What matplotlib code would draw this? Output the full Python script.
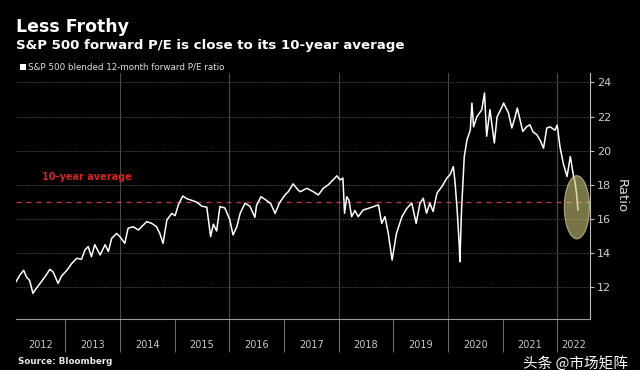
import matplotlib
matplotlib.use("Agg")
import matplotlib.pyplot as plt
from matplotlib.patches import Ellipse, Rectangle

# S&P 500 blended 12-month forward P/E (decimal year, ratio)
dates = [
    2012.10, 2012.17, 2012.24, 2012.29, 2012.35, 2012.41, 2012.45, 2012.54, 2012.63, 2012.72,
    2012.78, 2012.87, 2012.93, 2013.03, 2013.12, 2013.21, 2013.30, 2013.36, 2013.42, 2013.48,
    2013.54, 2013.64, 2013.73, 2013.79, 2013.85, 2013.94, 2014.00, 2014.09, 2014.15, 2014.24,
    2014.34, 2014.43, 2014.49, 2014.58, 2014.67, 2014.73, 2014.79, 2014.86, 2014.95, 2015.01,
    2015.07, 2015.15, 2015.22, 2015.31, 2015.40, 2015.50, 2015.59, 2015.66, 2015.71, 2015.77,
    2015.83, 2015.92, 2016.01, 2016.07, 2016.14, 2016.20, 2016.29, 2016.38, 2016.47, 2016.50,
    2016.58, 2016.67, 2016.76, 2016.84, 2016.92, 2017.02, 2017.08, 2017.17, 2017.26, 2017.30,
    2017.42, 2017.54, 2017.63, 2017.72, 2017.81, 2017.90, 2017.97, 2018.03, 2018.08, 2018.11,
    2018.15, 2018.19, 2018.24, 2018.30, 2018.36, 2018.45, 2018.55, 2018.64, 2018.73, 2018.79,
    2018.85, 2018.91, 2018.98, 2019.06, 2019.16, 2019.25, 2019.34, 2019.42, 2019.49, 2019.55,
    2019.61, 2019.67, 2019.73, 2019.80, 2019.89, 2019.98, 2020.04, 2020.10, 2020.13, 2020.17,
    2020.21, 2020.22, 2020.25, 2020.30, 2020.35, 2020.41, 2020.44, 2020.47, 2020.53, 2020.62,
    2020.67, 2020.71, 2020.77, 2020.85, 2020.90, 2020.99, 2021.02, 2021.11, 2021.17, 2021.23,
    2021.27, 2021.37, 2021.44, 2021.50, 2021.56, 2021.63, 2021.69, 2021.75, 2021.81, 2021.87,
    2021.96, 2022.00, 2022.05, 2022.11, 2022.18, 2022.24, 2022.30, 2022.33, 2022.36, 2022.38,
]
pe = [
    12.33, 12.72, 13.00, 12.62, 12.40, 11.65, 11.85, 12.23, 12.62, 13.06,
    12.90, 12.23, 12.65, 13.00, 13.40, 13.70, 13.65, 14.19, 14.39, 13.80,
    14.50, 13.90, 14.50, 14.10, 14.87, 15.16, 14.97, 14.58, 15.46, 15.55,
    15.36, 15.65, 15.85, 15.75, 15.55, 15.16, 14.58, 15.95, 16.33, 16.20,
    16.83, 17.35, 17.20, 17.10, 17.00, 16.75, 16.70, 14.97, 15.70, 15.30,
    16.73, 16.65, 15.97, 15.07, 15.55, 16.33, 16.93, 16.75, 16.10, 16.80,
    17.31, 17.12, 16.90, 16.33, 16.95, 17.41, 17.60, 18.06, 17.70, 17.60,
    17.80, 17.60, 17.41, 17.80, 18.00, 18.29, 18.53, 18.29, 18.40, 16.34,
    17.31, 17.10, 16.14, 16.50, 16.14, 16.53, 16.63, 16.73, 16.83, 15.75,
    16.14, 15.16, 13.60, 15.16, 16.14, 16.63, 16.93, 15.75, 16.93, 17.22,
    16.34, 16.93, 16.44, 17.51, 17.90, 18.39, 18.60, 19.07, 18.20, 16.53,
    14.38, 13.50, 16.53, 19.66, 20.64, 21.20, 22.79, 21.40, 21.98, 22.40,
    23.38, 20.85, 22.40, 20.45, 21.98, 22.56, 22.79, 22.20, 21.33, 21.98,
    22.50, 21.13, 21.40, 21.52, 21.10, 20.93, 20.60, 20.15, 21.33, 21.40,
    21.20, 21.50, 20.25, 19.27, 18.49, 19.66, 18.49, 18.10, 17.31, 16.53,
]

avg_10y = 17.0
year_edges = [2013, 2014, 2015, 2016, 2017, 2018, 2019, 2020, 2021, 2022]
year_labels = ["2012", "2013", "2014", "2015", "2016", "2017", "2018", "2019", "2020", "2021", "2022"]
y_ticks = [12, 14, 16, 18, 20, 22, 24]

x_lo, x_hi = 2012.10, 2022.60
y_lo, y_hi = 10.15, 24.55

fig = plt.figure(figsize=(6.4, 3.7), dpi=100, facecolor="black")
ax = fig.add_axes([16 / 640, 1 - 319 / 370, 574 / 640, 246 / 370], facecolor="black")

# grid
for y in y_ticks:
    ax.axhline(y, color="#4a4a4a", lw=0.7, ls=(0, (1, 1)), zorder=1)
for x in [2014, 2016, 2018, 2020, 2022]:
    ax.axvline(x, color="#4a4a4a", lw=0.8, zorder=1)

# 10-year average
ax.axhline(avg_10y, color="#c0404f", lw=0.9, ls=(0, (4, 4)), zorder=2)
ax.text(2012.57, 18.45, "10-year average", color="#d42424", fontsize=7,
        fontweight="bold", va="center", ha="left")

ax.plot(dates, pe, color="white", lw=1.1, zorder=3)

ax.add_patch(Ellipse((2022.36, 16.69), width=0.46, height=3.7,
                     facecolor="#c8c478", alpha=0.6, edgecolor="#ecea b0".replace(" ", ""),
                     lw=0.8, zorder=4))

ax.set_xlim(x_lo, x_hi)
ax.set_ylim(y_lo, y_hi)

# spines
for s in ["top", "left"]:
    ax.spines[s].set_visible(False)
ax.spines["bottom"].set_color("#9a9a9a")
ax.spines["right"].set_color("#bdbdbd")

# y axis on the right
ax.yaxis.tick_right()
ax.yaxis.set_label_position("right")
ax.set_yticks(y_ticks)
ax.set_yticklabels([str(t) for t in y_ticks])
ax.tick_params(axis="y", colors="#bdbdbd", labelcolor="#cfcfcf", labelsize=8,
               length=3, width=0.8, pad=2)
ax.set_ylabel("Ratio", color="#dcdcdc", fontsize=9.5, rotation=270, labelpad=12)

# x axis: separators at year edges, labels centred in each visible year
ax.set_xticks(year_edges)
ax.set_xticklabels([])
ax.tick_params(axis="x", which="major", colors="#6a6a6a", length=24, width=0.8)
centers = []
starts = [x_lo] + year_edges
ends = year_edges + [x_hi]
for a, b in zip(starts, ends):
    centers.append((a + b) / 2)
ax.set_xticks(centers, minor=True)
ax.set_xticklabels(year_labels, minor=True)
ax.tick_params(axis="x", which="minor", length=0, pad=15, labelsize=7,
               labelcolor="#c8c8c8")

# titles and notes
fig.text(16 / 640, 1 - 27 / 370, "Less Frothy", color="white", fontsize=12.5,
         fontweight="bold", va="center", ha="left")
fig.text(16 / 640, 1 - 45 / 370, "S&P 500 forward P/E is close to its 10-year average",
         color="white", fontsize=9.6, fontweight="bold", va="center", ha="left")
fig.patches.append(Rectangle((20 / 640, 1 - 70 / 370), 6 / 640, 6 / 370,
                             transform=fig.transFigure, facecolor="white",
                             edgecolor="none"))
fig.text(28 / 640, 1 - 67 / 370, "S&P 500 blended 12-month forward P/E ratio",
         color="#e0e0e0", fontsize=6.3, va="center", ha="left")
fig.text(18 / 640, 1 - 362 / 370, "Source: Bloomberg", color="#e8e8e8", fontsize=6.3,
         fontweight="bold", va="center", ha="left")
fig.text(628 / 640, 1 - 363 / 370, "头条 @市场矩阵", color="white", fontsize=10.5,
         family=["Noto Sans CJK SC", "DejaVu Sans"], va="center", ha="right")

fig.savefig("out.png", dpi=100, facecolor="black")
